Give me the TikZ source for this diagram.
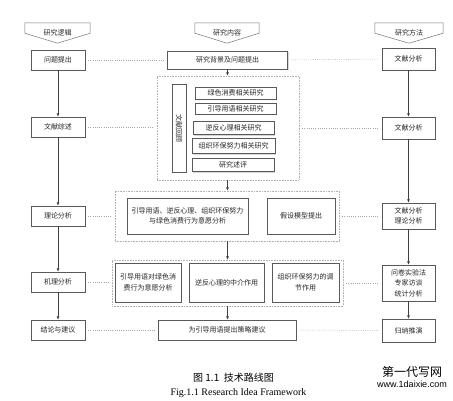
\documentclass[tikz,border=0pt]{standalone}
\usepackage{fontspec}
\setmainfont{Liberation Serif}
\newfontfamily\cjk{Noto Sans CJK SC}
\newfontfamily\wmfont{Liberation Sans}
\usetikzlibrary{arrows.meta, shadows}
\tikzset{
    stepbox/.style={rectangle, draw=black!65, line width=0.5pt, fill=white, text=black!85, align=center, inner sep=1pt, font=\cjk\fontsize{7}{10.5}\selectfont, drop shadow={shadow xshift=1pt, shadow yshift=-1pt, opacity=0.35, fill=black!45}},
    groupbox/.style={rectangle, draw=black!30, line width=0.35pt, dash pattern=on 0.6pt off 1pt, fill=white, drop shadow={shadow xshift=0.8pt, shadow yshift=-0.8pt, opacity=0.08, fill=black!30}},
    headbox/.style={rectangle, minimum height=20pt, inner sep=0pt, text=black!85, font=\cjk\fontsize{7}{9}\selectfont},
    headline/.style={draw=black!55, line width=0.5pt},
    arrow/.style={-{Latex[length=3.5pt,width=3pt]}, line width=0.6pt, draw=black!75},
    link/.style={line width=0.5pt, draw=black!35, dash pattern=on 0.8pt off 1.4pt, shorten <=3pt, shorten >=3pt}
}

\begin{document}
\begin{tikzpicture}[x=1pt, y=-1pt]
    \useasboundingbox (0,0) rectangle (453,400);

    % headers
    \node (hl) [headbox, minimum width=65pt] at (57.5,33) {研究逻辑};
    \node (hm) [headbox, minimum width=64pt] at (227,33) {研究内容};
    \node (hr) [headbox, minimum width=68pt] at (409,33) {研究方法};
    \foreach \h in {hl,hm,hr}
        \draw [headline] (\h.north west) -- (\h.north east) -- ([yshift=10pt]\h.south east) -- (\h.south) -- ([yshift=10pt]\h.south west) -- cycle;

    % left column
    \node (lq) [stepbox, minimum width=54pt, minimum height=20pt] at (58,60) {问题提出};
    \node (lw) [stepbox, minimum width=54pt, minimum height=20pt] at (58,127) {文献综述};
    \node (ll) [stepbox, minimum width=54pt, minimum height=20pt] at (58,216) {理论分析};
    \node (lj) [stepbox, minimum width=54pt, minimum height=20pt] at (58,282) {机理分析};
    \node (lc) [stepbox, minimum width=54pt, minimum height=20pt] at (58,330) {结论与建议};

    % right column
    \node (r1) [stepbox, minimum width=53pt, minimum height=22pt] at (408.5,59) {文献分析};
    \node (r2) [stepbox, minimum width=53pt, minimum height=22pt] at (408.5,128) {文献分析};
    \node (r3) [stepbox, minimum width=53pt, minimum height=26pt] at (408.5,216) {文献分析\\理论分析};
    \node (r4) [stepbox, minimum width=53pt, minimum height=36pt] at (408.5,283) {问卷实验法\\专家访谈\\统计分析};
    \node (r5) [stepbox, minimum width=53pt, minimum height=23pt] at (408.5,330.5) {归纳推演};

    % middle column
    \node (m1) [stepbox, minimum width=120pt, minimum height=18pt] at (227.5,60) {研究背景及问题提出};

    \node (g1) [groupbox, minimum width=142pt, minimum height=104pt] at (228,128) {};
    \node (lit) [stepbox, rotate=-90, minimum width=88pt, minimum height=14pt] at (179,128) {文献回顾};
    \node (i1) [stepbox, minimum width=81pt, minimum height=12pt] at (235.5,93) {绿色消费相关研究};
    \node (i2) [stepbox, minimum width=81pt, minimum height=11.5pt] at (235.5,108.5) {引导用语相关研究};
    \node (i3) [stepbox, minimum width=81pt, minimum height=13pt] at (233.5,128) {逆反心理相关研究};
    \node (i4) [stepbox, minimum width=83pt, minimum height=15pt] at (233.5,146) {组织环保努力相关研究};
    \node (i5) [stepbox, minimum width=82pt, minimum height=13pt] at (233,165) {研究述评};

    \node (g2) [groupbox, minimum width=224pt, minimum height=50pt] at (227,216) {};
    \node (ga) [stepbox, minimum width=121pt, minimum height=36pt] at (187.5,216) {引导用语、逆反心理、组织环保努力\\与绿色消费行为意愿分析};
    \node (gb) [stepbox, minimum width=68pt, minimum height=36pt] at (301,216) {假设模型提出};

    \node (g3) [groupbox, minimum width=231pt, minimum height=46pt] at (227.5,283) {};
    \node (gc) [stepbox, minimum width=66pt, minimum height=39pt] at (148,282.5) {引导用语对绿色消\\费行为意愿分析};
    \node (gd) [stepbox, minimum width=75pt, minimum height=39pt] at (226.5,282.5) {逆反心理的中介作用};
    \node (ge) [stepbox, minimum width=67pt, minimum height=39pt] at (305.5,282.5) {组织环保努力的调\\节作用};

    \node (fin) [stepbox, minimum width=138pt, minimum height=20pt] at (227,330) {为引导用语提出策略建议};

    % vertical arrows
    \draw [arrow] (lq) -- (lw);
    \draw [arrow] (lw) -- (ll);
    \draw [arrow] (ll) -- (lj);
    \draw [arrow] (lj) -- (lc);
    \draw [arrow] (r1) -- (r2);
    \draw [arrow] (r2) -- (r3);
    \draw [arrow] (r3) -- (r4);
    \draw [arrow] (r4) -- (r5);
    \draw [arrow] (m1.south) -- (m1.south |- g1.north);
    \draw [arrow] (m1.south |- g1.south) -- (m1.south |- g2.north);
    \draw [arrow] (m1.south |- g2.south) -- (m1.south |- g3.north);
    \draw [arrow] (m1.south |- g3.south) -- (m1.south |- fin.north);

    % dotted links
    \draw [link] (lq.east) -- (m1.west);
    \draw [link] (m1.east) -- (r1.west);
    \draw [link] (lw.east) -- (lw.east -| g1.west);
    \draw [link] (r2.west -| g1.east) -- (r2.west);
    \draw [link] (ll.east) -- (ll.east -| g2.west);
    \draw [link] (r3.west -| g2.east) -- (r3.west);
    \draw [link] (lj.east) -- (lj.east -| g3.west);
    \draw [link] (r4.west -| g3.east) -- (r4.west);
    \draw [link] (lc.east) -- (fin.west);
    \draw [link] (fin.east) -- (r5.west);

    % caption
    \node (cap) at (233.5,378) {\cjk\fontsize{10}{12}\selectfont 图 1.1\ \ 技术路线图};
    \node (capen) at (238.5,393) {\fontsize{10}{12}\selectfont Fig.1.1 Research Idea Framework};
    \node (wm1) at (412,372) {\cjk\fontsize{12}{14}\selectfont 第一代写网};
    \node (wm2) at (412,384.5) {\wmfont\fontsize{9}{10}\selectfont www.1daixie.com};
\end{tikzpicture}
\end{document}
